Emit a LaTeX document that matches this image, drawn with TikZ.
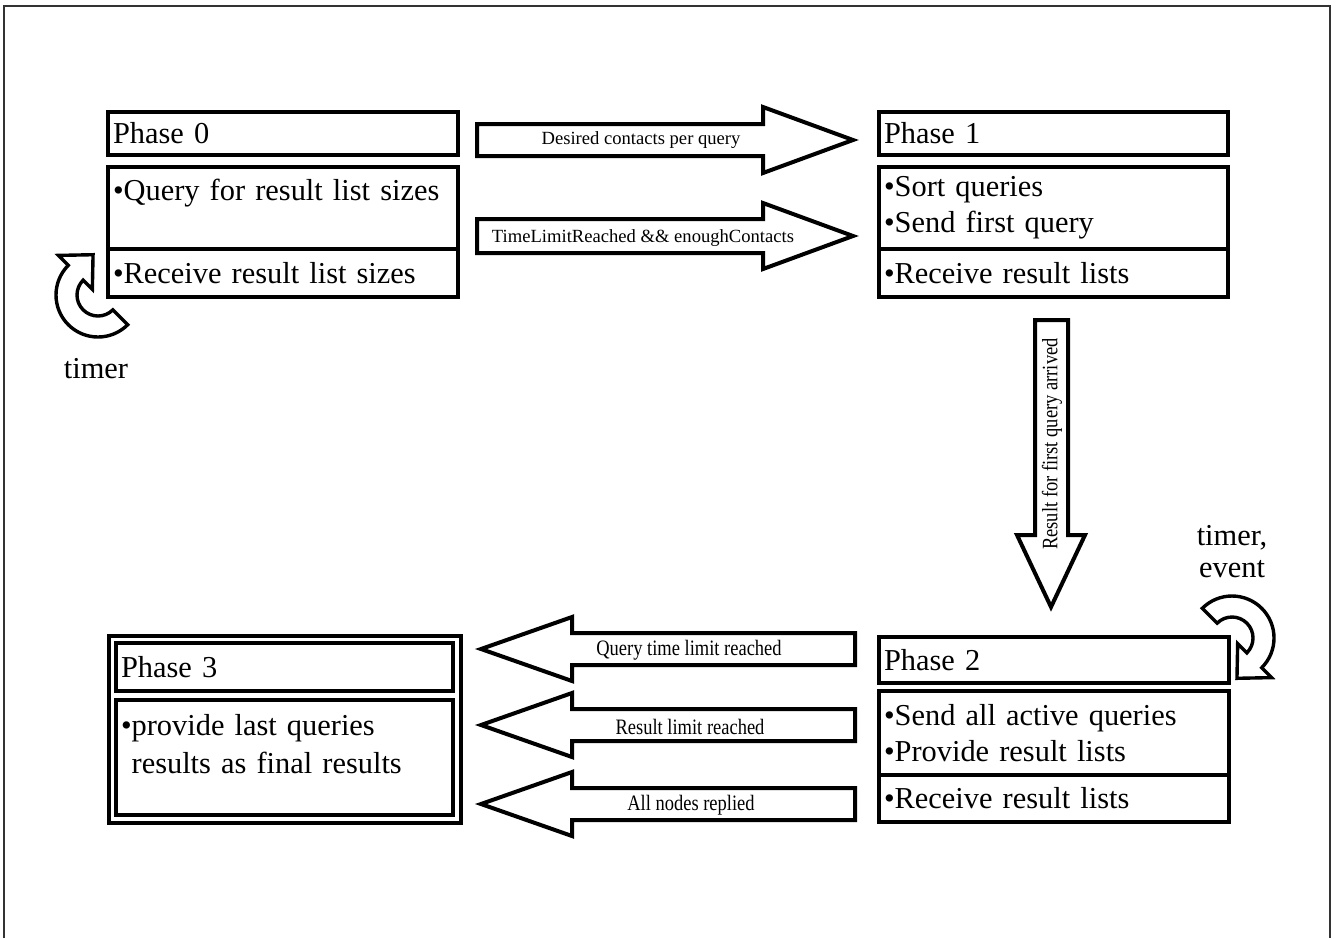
\documentclass[tikz,border=0pt]{standalone}
\usepackage{fontspec}
\setmainfont{Liberation Serif}
\usepackage{tikz}
\tikzset{phasebox/.style={draw,line width=2pt,rectangle,anchor=north west,inner xsep=2.5pt,inner ysep=0pt,align=left,font=\fontsize{15.2}{18}\selectfont},blockarrow/.style={draw,fill=white,line width=2pt,line join=miter},curvearrow/.style={draw,fill=white,line width=1.7pt,line join=miter},arrowlabel/.style={inner sep=0pt,font=\fontsize{9.3}{11}\selectfont},thinlabel/.style={inner sep=0pt,xscale=.84,font=\fontsize{11}{13}\selectfont},looplabel/.style={inner sep=0pt,align=center,font=\fontsize{15.2}{16}\selectfont}}

\begin{document}
\begin{tikzpicture}[x=.5pt,y=-.5pt]
\useasboundingbox (0,0) rectangle (1336,938);
\draw[black!80,line width=1pt] (4,938)--(4,6)--(1330,6)--(1330,938);
% phases
\node[phasebox,minimum width=175pt,minimum height=21.5pt,text width=170pt] (p0h) at (106,110) {Phase 0};
\node[phasebox,minimum width=175pt,minimum height=41pt,text width=170pt] (p0b) at (106,165) {•Query for result list sizes\\\mbox{}};
\node[phasebox,minimum width=175pt,minimum height=24pt,text width=170pt] (p0r) at (106,247) {•Receive result list sizes};
\node[phasebox,minimum width=174.5pt,minimum height=21.5pt,text width=169.5pt] (p1h) at (877,110) {Phase 1};
\node[phasebox,minimum width=174.5pt,minimum height=41pt,text width=169.5pt] (p1b) at (877,165) {•Sort queries\\•Send first query};
\node[phasebox,minimum width=174.5pt,minimum height=24pt,text width=169.5pt] (p1r) at (877,247) {•Receive result lists};
\node[phasebox,minimum width=175pt,minimum height=23pt,text width=170pt] (p2h) at (877,635) {Phase 2};
\node[phasebox,minimum width=175pt,minimum height=42pt,text width=170pt] (p2b) at (877,689) {•Send all active queries\\•Provide result lists};
\node[phasebox,minimum width=175pt,minimum height=23.5pt,text width=170pt] (p2r) at (877,773) {•Receive result lists};
\node[phasebox,minimum width=176pt,minimum height=93.5pt,text width=171pt] (p3) at (107,634) {};
\node[phasebox,minimum width=168.5pt,minimum height=24pt,text width=163.5pt] (p3h) at (114,641) {Phase 3};
\node[phasebox,minimum width=168.5pt,minimum height=57.5pt,text width=163.5pt,font=\fontsize{15.2}{19}\selectfont] (p3b) at (114,698) {•provide last queries\\\phantom{•}results as final results\\[-5pt]\mbox{}};
% transitions
\draw[blockarrow] (477,124)--(763,124)--(763,107)--(853,140)--(763,173)--(763,156)--(477,156)--cycle;
\node[arrowlabel] (l01a) at (641,140) {Desired contacts per query};
\draw[blockarrow] (477,219)--(763,219)--(763,203)--(853,236)--(763,269)--(763,253)--(477,253)--cycle;
\node[arrowlabel] (l01b) at (643,238) {TimeLimitReached \&\& enoughContacts};
\draw[blockarrow] (1035,320)--(1035,535)--(1017,535)--(1051,607)--(1085,535)--(1068,535)--(1068,320)--cycle;
\node[rotate=90,thinlabel] (l12) at (1052,444) {Result for first query arrived};
\draw[blockarrow] (855,633)--(572,633)--(572,617)--(481,649)--(572,681)--(572,665)--(855,665)--cycle;
\node[thinlabel] (l23a) at (689,650) {Query time limit reached};
\draw[blockarrow] (855,709)--(572,709)--(572,693)--(481,725)--(572,757)--(572,741)--(855,741)--cycle;
\node[thinlabel] (l23b) at (690,727) {Result limit reached};
\draw[blockarrow] (855,788)--(572,788)--(572,772)--(481,804)--(572,836)--(572,820)--(855,820)--cycle;
\node[thinlabel] (l23c) at (691,805) {All nodes replied};
% loops
\begin{scope}[shift={(98,295)}]
\draw[curvearrow] (45:42) arc[start angle=45,end angle=225,radius=42]--(225:56)--(263:40.6)--(225:8)--(225:21) arc[start angle=225,end angle=45,radius=21]--cycle;
\end{scope}
\node[looplabel] (t0) at (96,369) {timer};
\begin{scope}[shift={(1232,638)}]
\draw[curvearrow] (-135:42) arc[start angle=-135,end angle=45,radius=42]--(45:56)--(83:40.6)--(45:8)--(45:21) arc[start angle=45,end angle=-135,radius=21]--cycle;
\end{scope}
\node[looplabel] (t2) at (1232,552) {timer,\\event};
\end{tikzpicture}
\end{document}
